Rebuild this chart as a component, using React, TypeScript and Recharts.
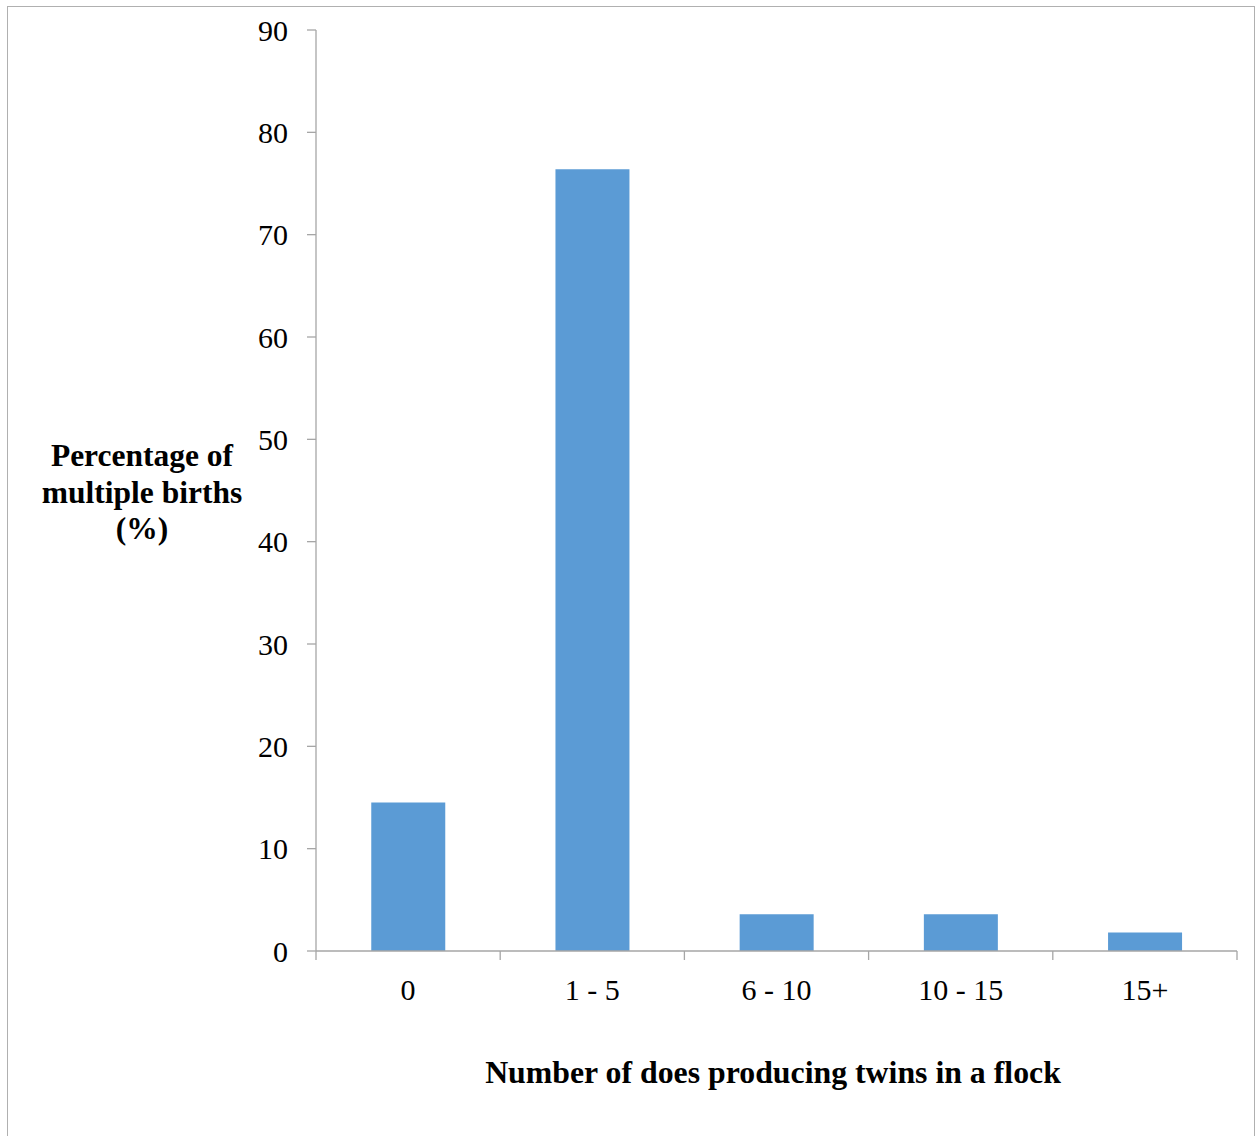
import React from "react";
import { BarChart, Bar, XAxis, YAxis } from "recharts";

const categories = ["0", "1 - 5", "6 - 10", "10 - 15", "15+"];
const percentages = [14.5, 76.4, 3.6, 3.6, 1.8];
const yTicks = [0, 10, 20, 30, 40, 50, 60, 70, 80, 90];
const boundaryTicks = [0, 1, 2, 3, 4, 5];
const yLabelLines = ["Percentage of", "multiple births", "(%)"];
const xTitle = "Number of does producing twins in a flock";

const data = categories.map((c, i) => ({ name: c, value: percentages[i], pos: i }));

const FONT = "'Liberation Serif', 'Times New Roman', serif";
const AXIS = "#a6a6a6";

const YLabel = () => (
  <text
    x={142}
    y={466}
    textAnchor="middle"
    fontFamily={FONT}
    fontWeight="bold"
    fontSize={31.5}
    fill="#000"
  >
    {yLabelLines.map((l, i) => (
      <tspan key={i} x={142} y={466 + i * 36.5}>
        {l}
      </tspan>
    ))}
  </text>
);

const XTitle = () => (
  <text
    x={773}
    y={1083}
    textAnchor="middle"
    fontFamily={FONT}
    fontWeight="bold"
    fontSize={31.8}
    fill="#000"
  >
    {xTitle}
  </text>
);

const EmptyTick = () => <g />;

export default function App() {
  return (
    <div
      style={{
        position: "absolute",
        left: 0,
        top: 0,
        width: 1255,
        height: 1136,
        overflow: "hidden",
        background: "#fff",
      }}
    >
      <div
        style={{
          position: "absolute",
          left: 7,
          top: 6,
          width: 1248,
          height: 1200,
          border: "1px solid #b0b0b0",
          boxSizing: "border-box",
        }}
      />
      <div style={{ position: "absolute", left: 0, top: 0 }}>
        <BarChart
          width={1255}
          height={1136}
          data={data}
          margin={{ top: 30, right: 18, bottom: 84, left: 0 }}
          barCategoryGap="30%"
        >
          <XAxis
            xAxisId="b"
            type="number"
            dataKey="pos"
            domain={[0, 5]}
            ticks={boundaryTicks}
            allowDataOverflow
            interval={0}
            height={1}
            tick={EmptyTick}
            tickSize={9}
            axisLine={{ stroke: AXIS, strokeWidth: 1.3 }}
            tickLine={{ stroke: AXIS, strokeWidth: 1.3 }}
          />
          <XAxis
            xAxisId="c"
            dataKey="name"
            height={100}
            axisLine={false}
            tickLine={false}
            tickSize={9}
            tickMargin={18}
            interval={0}
            tick={{ fontFamily: FONT, fontSize: 30, fill: "#000" }}
            label={{ content: () => <XTitle /> }}
          />
          <YAxis
            width={316}
            domain={[0, 90]}
            ticks={yTicks}
            interval={0}
            tickSize={9}
            tickMargin={19}
            axisLine={{ stroke: AXIS, strokeWidth: 1.3 }}
            tickLine={{ stroke: AXIS, strokeWidth: 1.3 }}
            tick={{ fontFamily: FONT, fontSize: 30, fill: "#000" }}
            label={{ content: () => <YLabel /> }}
          />
          <Bar
            xAxisId="c"
            dataKey="value"
            fill="#5B9BD5"
            isAnimationActive={false}
          />
        </BarChart>
      </div>
    </div>
  );
}
